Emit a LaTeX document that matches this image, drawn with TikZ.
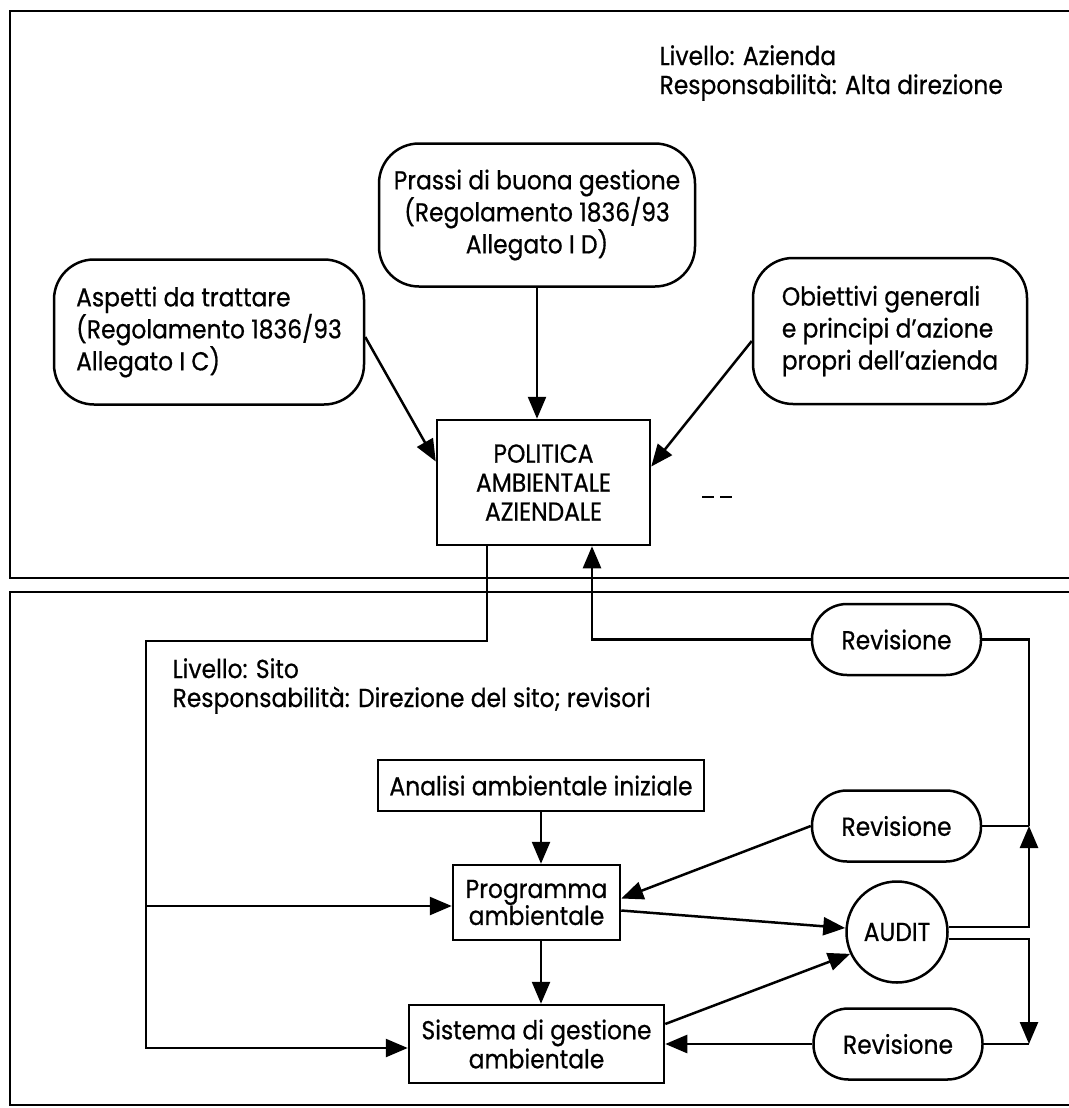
\documentclass[tikz,border=0pt]{standalone}
\usepackage{fontspec}
\setmainfont{Poppins}[FakeStretch=0.9,FakeBold=0.6]
\usetikzlibrary{arrows.meta,calc}

\begin{document}
\begin{tikzpicture}[x=1pt,y=-1pt,line width=2.5pt,
  txt/.style={font=\fontsize{26}{29}\selectfont},
  txtwide/.style={font=\fontsize{26}{32}\selectfont},
  roundbox/.style={draw,rounded corners=40pt,inner sep=0pt,align=left,txtwide},
  sqbox/.style={draw,inner sep=0pt,align=center,txt},
  pill/.style={draw,rounded corners=35pt,minimum width=169pt,minimum height=71pt,inner sep=0pt,txt},
  ring/.style={draw,circle,minimum size=101pt,inner sep=0pt,txt},
  arr/.style={-{Triangle[length=22pt,width=18pt]}},
  frame/.style={line width=2.7pt}]
\useasboundingbox (0,0) rectangle (1068,1108);

% the two level frames
\draw[frame] (1075,11) -- (10,11) -- (10,578) -- (1075,578);
\draw[frame] (1075,592) -- (10,592) -- (10,1105) -- (1075,1105);

% company level
\node[txt,anchor=west,align=left] (lvlA) at (655,73) {Livello: Azienda\\Responsabilità: Alta direzione};

\node[roundbox,align=center,minimum width=316pt,minimum height=143pt] (prassi) at (537,215)
  {Prassi di buona gestione\\(Regolamento 1836/93\\Allegato I D)};
\node[roundbox,minimum width=310pt,minimum height=145pt] (aspetti) at (209,332)
  {Aspetti da trattare\\(Regolamento 1836/93\\Allegato I C)};
\node[roundbox,minimum width=274pt,minimum height=146pt] (obiettivi) at (890,331)
  {Obiettivi generali\\e principi d’azione\\propri dell’azienda};
\node[sqbox,minimum width=213pt,minimum height=125pt] (politica) at (543.5,482.5)
  {POLITICA\\AMBIENTALE\\AZIENDALE};

\draw[arr] (prassi.south) -- (prassi.south |- politica.north);
\draw[arr] ($(aspetti.east)+(0,5)$) -- ($(politica.west)+(0,-21)$);
\draw[arr] ($(obiettivi.west)+(0,10)$) -- ($(politica.east)+(0,-16)$);
\draw (702,497) -- (714,497) (720,497) -- (732,497);

% site level
\node[txt,anchor=west,align=left] (lvlS) at (168,686) {Livello: Sito\\Responsabilità: Direzione del sito; revisori};

\node[sqbox,minimum width=326pt,minimum height=51pt] (analisi) at (541,785.5) {Analisi ambientale iniziale};
\node[sqbox,minimum width=167pt,minimum height=75pt,font=\fontsize{26}{27}\selectfont] (programma) at (536.5,902.5)
  {Programma\\ambientale};
\node[sqbox,minimum width=255pt,minimum height=78pt] (sistema) at (536.5,1044)
  {Sistema di gestione\\ambientale};
\node[ring] (audit) at (897,932) {AUDIT};
\node[pill] (rev1) at (896.5,639.5) {Revisione};
\node[pill] (rev2) at (896.5,826) {Revisione};
\node[pill] (rev3) at (898,1044) {Revisione};

% policy handed down to the site
\coordinate (d1) at (487,641);
\coordinate (d2) at (146,641);
\coordinate (d3) at (146,1048);
\coordinate (d4) at (146,906);
\draw[arr] (politica.south -| d1) -- (d1) -- (d2) -- (d3) -- (d3 -| sistema.west);
\draw[arr] (d4) -- (d4 -| programma.west);

% review back to the policy
\coordinate (u1) at (592,639.5);
\draw[arr] (rev1.west) -- (u1) -- (u1 |- politica.south);

% site programme chain
\draw[arr] (analisi.south) -- (analisi.south |- programma.north);
\draw[arr] (programma.south -| analisi.south) -- (analisi.south |- sistema.north);
\draw[arr] (rev2.west) -- ($(programma.east)+(0,-4)$);
\draw[arr] ($(programma.east)+(0,8)$) -- ($(audit.west)+(0,-4)$);
\draw[arr] ($(sistema.east)+(0,-20)$) -- (audit.205);
\draw[arr] (rev3.west) -- (rev3.west -| sistema.east);

% audit feeding the reviews
\coordinate (j2) at (1029,826);
\coordinate (j3) at (1029,1044);
\draw (rev1.east) -- (rev1.east -| j2) -- (j2);
\draw (rev2.east) -- (j2);
\draw[arr] ($(audit.east)+(0,-5)$) -| (j2);
\draw[arr] ($(audit.east)+(0,7)$) -| (j3);
\draw (rev3.east) -- (j3);
\end{tikzpicture}
\end{document}
